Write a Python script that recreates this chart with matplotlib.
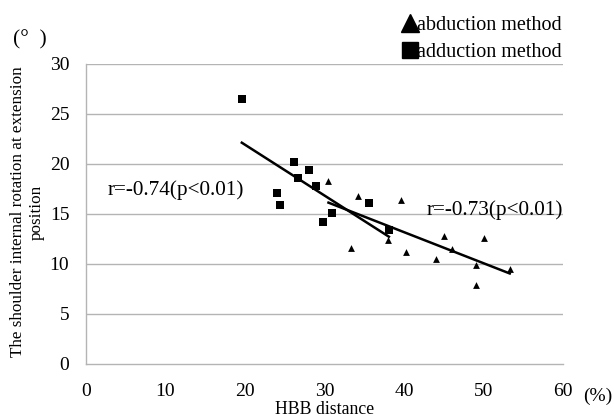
import numpy as np
import matplotlib
matplotlib.use("Agg")
import matplotlib.pyplot as plt
from matplotlib.lines import Line2D

plt.rcParams['font.family'] = ['Liberation Serif', 'DejaVu Serif']

# Data (HBB distance %, internal rotation degrees)
adduction_x = [19.6, 24.0, 24.4, 26.2, 26.7, 28.1, 28.9, 29.8, 30.9, 35.6, 38.1]
adduction_y = [26.5, 17.1, 15.9, 20.2, 18.6, 19.4, 17.8, 14.2, 15.1, 16.1, 13.4]
abduction_x = [30.5, 34.2, 39.6, 45.0, 50.0, 38.0, 33.3, 40.3, 46.0, 44.0, 49.0, 53.3, 49.0]
abduction_y = [18.3, 16.8, 16.4, 12.8, 12.6, 12.4, 11.6, 11.2, 11.5, 10.5, 9.9, 9.5, 7.9]

x_ticks = [0, 10, 20, 30, 40, 50, 60]
y_ticks = [0, 5, 10, 15, 20, 25, 30]
r_adduction = "r=-0.74(p<0.01)"
r_abduction = "r=-0.73(p<0.01)"

fig = plt.figure(figsize=(6.14, 4.16), dpi=100)
ax = fig.add_axes([86/614, 52/416, 477/614, 300/416])

grid_c = '#b4b4b4'
for yv in y_ticks[1:]:
    ax.axhline(yv, color=grid_c, lw=1.0, zorder=0)

ax.scatter(abduction_x, abduction_y, marker='^', s=24, color='black', linewidths=0, zorder=3)
ax.scatter(adduction_x, adduction_y, marker='s', s=32, color='black', linewidths=0, zorder=3)

for xs, ys in [(adduction_x, adduction_y), (abduction_x, abduction_y)]:
    xs = np.array(xs); ys = np.array(ys)
    k, b = np.polyfit(xs, ys, 1)
    xx = np.array([xs.min(), xs.max()])
    ax.plot(xx, k * xx + b, color='black', lw=1.8, zorder=2)

ax.set_xlim(0, 60)
ax.set_ylim(0, 30)
ax.set_xticks(x_ticks)
ax.set_yticks(y_ticks)
ax.tick_params(length=0, labelsize=14)
ax.tick_params(axis='x', pad=13.5)
ax.tick_params(axis='y', pad=12)
for s in ['top', 'right']:
    ax.spines[s].set_visible(False)
for s in ['left', 'bottom']:
    ax.spines[s].set_color(grid_c)
    ax.spines[s].set_linewidth(1.0)

ax.text(2.7, 17.4, r_adduction, fontsize=15.3, va='center', ha='left')
ax.text(42.8, 15.4, r_abduction, fontsize=15.3, va='center', ha='left')

fig.text(18/614, 1 - 212/416, "The shoulder internal rotation at extension",
         rotation=90, fontsize=12.3, ha='center', va='center')
fig.text(37/614, 1 - 212/416, "position", rotation=90, fontsize=12.3, ha='center', va='center')
fig.text(30/614, 1 - 40/416, "(°  )", fontsize=15.5, ha='center', va='center')
fig.text(598/614, 1 - 396/416, "(%)", fontsize=14, ha='center', va='center')
fig.text(325/614, 1 - 409/416, "HBB distance", fontsize=12.8, ha='center', va='center')

handles = [Line2D([], [], marker='^', ls='none', color='black', markersize=13),
           Line2D([], [], marker='s', ls='none', color='black', markersize=12)]
fig.legend(handles, ["abduction method", "adduction method"], loc='upper left',
           bbox_to_anchor=(388/614, 1 - 6/416), frameon=False, fontsize=14.5,
           handletextpad=-0.25, handlelength=1.2, labelspacing=0.4, borderpad=0)

fig.savefig("out.png", dpi=100)
